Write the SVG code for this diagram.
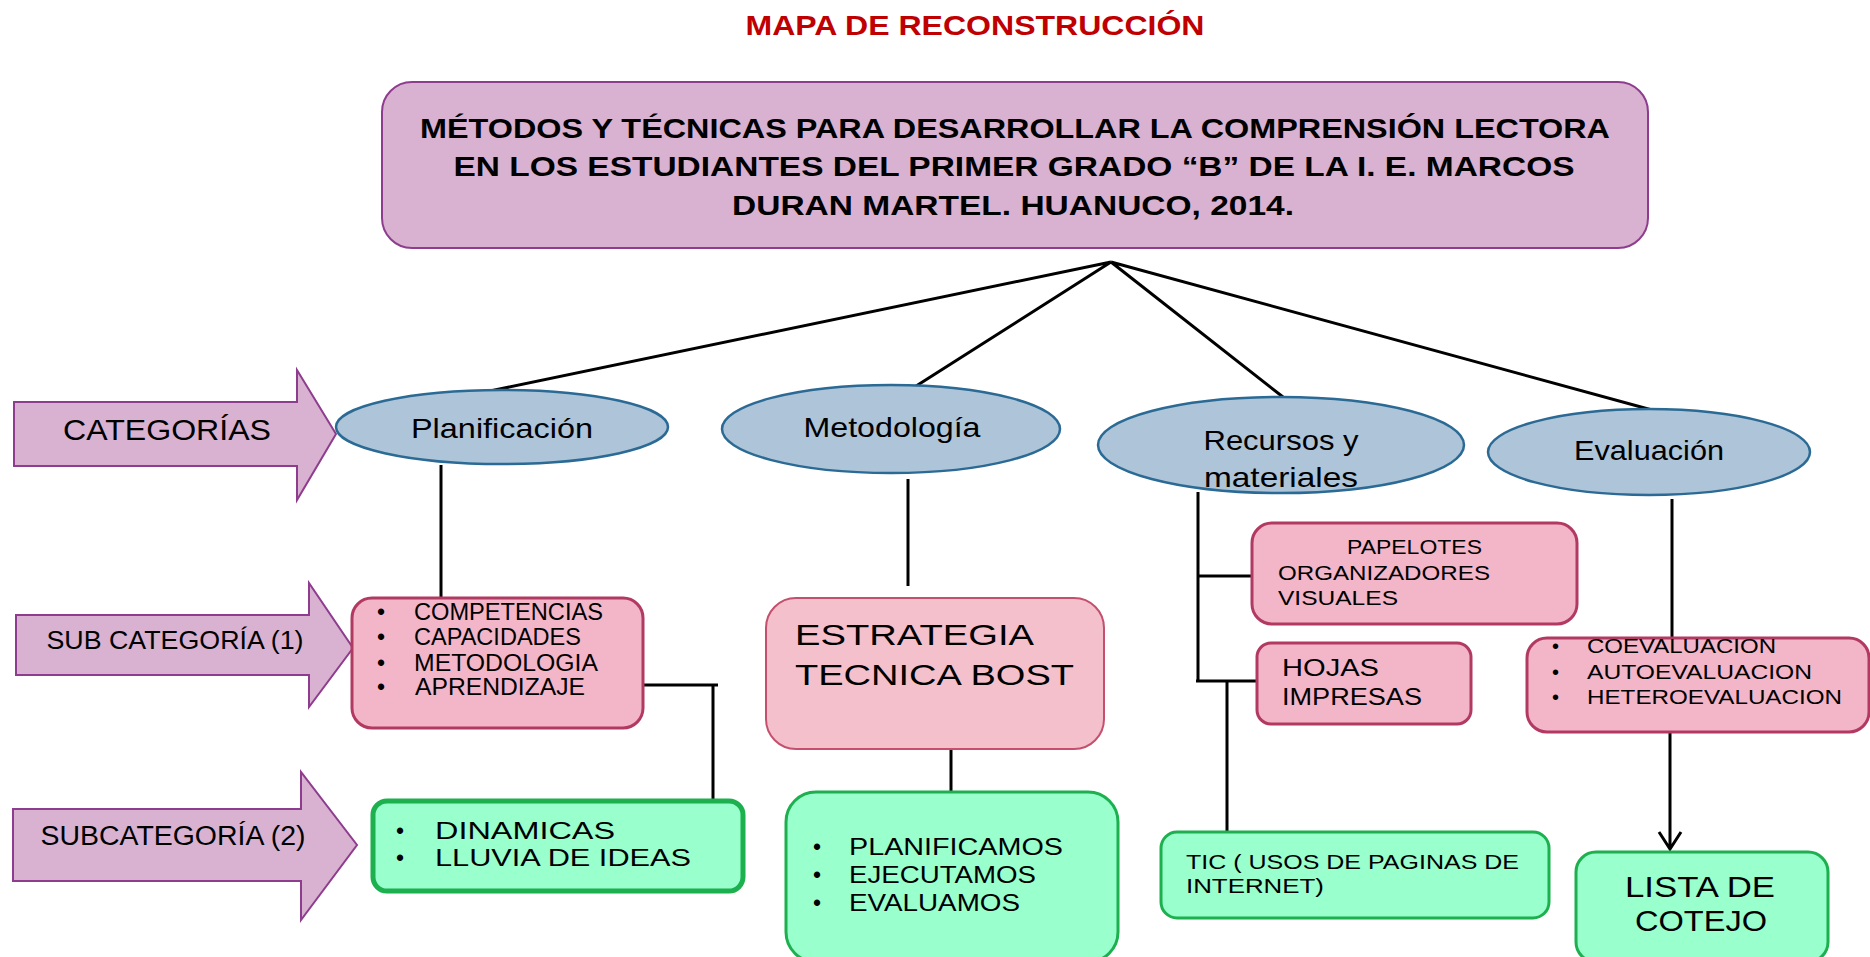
<svg xmlns="http://www.w3.org/2000/svg" width="1870" height="957" viewBox="0 0 1870 957">
<defs>
<style>
text{font-family:"Liberation Sans",Arial,sans-serif;fill:#000}
.ttl{font-size:28px;font-weight:bold;fill:#C00000}
.hd{font-size:27px;font-weight:bold}
.arw{fill:#D8B2D0;stroke:#8E3C8E;stroke-width:2}
.ell{fill:#AEC4D8;stroke:#2A6A94;stroke-width:2.5}
.pink{fill:#F3B5C8;stroke:#B23A62;stroke-width:3}
.pink2{fill:#F4C0CC;stroke:#C4506E;stroke-width:2}
.green{fill:#99FFCC;stroke:#1DB04E;stroke-width:3}
.con{stroke:#000;stroke-width:3;fill:none}
</style>
</defs>
<rect width="1870" height="957" fill="#fff"/>
<text class="ttl" x="975" y="35" text-anchor="middle" textLength="459" lengthAdjust="spacingAndGlyphs">MAPA DE RECONSTRUCCIÓN</text>

<g id="titulo">
<rect x="382" y="82" width="1266" height="166" rx="30" fill="#D8B2D0" stroke="#8E3C8E" stroke-width="2"/>
<text class="hd" x="1015" y="138" text-anchor="middle" textLength="1190" lengthAdjust="spacingAndGlyphs">MÉTODOS Y TÉCNICAS PARA DESARROLLAR LA COMPRENSIÓN LECTORA</text>
<text class="hd" x="1014" y="176" text-anchor="middle" textLength="1121" lengthAdjust="spacingAndGlyphs">EN LOS ESTUDIANTES DEL PRIMER GRADO “B” DE LA I. E. MARCOS</text>
<text class="hd" x="1013" y="215" text-anchor="middle" textLength="562" lengthAdjust="spacingAndGlyphs">DURAN MARTEL. HUANUCO, 2014.</text>
</g>

<g id="connectors">
<path class="con" d="M1111 262 L490 391 M1111 262 L913 388 M1111 262 L1283 397 M1111 262 L1652 410"/>
<path class="con" d="M441 465 V598"/>
<path class="con" d="M643 685 H718 M713 685 V800"/>
<path class="con" d="M908 479 V586"/>
<path class="con" d="M951 749 V791"/>
<path class="con" d="M1198 492 V681 M1198 576 H1252 M1196 681 H1257 M1227 681 V831"/>
<path class="con" d="M1672 499 V638"/>
<path class="con" d="M1670 732 V849 M1659 832 L1670 849 L1681 832"/>
</g>

<g id="arrow-categorias">
<path class="arw" d="M14 402 H297 V370 L336 434 L297 500 V466 H14 Z"/>
<text x="167" y="440" font-size="29" text-anchor="middle" textLength="208" lengthAdjust="spacingAndGlyphs">CATEGORÍAS</text>
</g>
<g id="arrow-sub1">
<path class="arw" d="M16 615 H309 V583 L353 648 L309 707 V675 H16 Z"/>
<text x="175" y="649" font-size="25" text-anchor="middle" textLength="257" lengthAdjust="spacingAndGlyphs">SUB CATEGORÍA (1)</text>
</g>
<g id="arrow-sub2">
<path class="arw" d="M13 809 H301 V772 L357 845 L301 920 V881 H13 Z"/>
<text x="173" y="845" font-size="27" text-anchor="middle" textLength="265" lengthAdjust="spacingAndGlyphs">SUBCATEGORÍA (2)</text>
</g>

<g id="planificacion">
<ellipse class="ell" cx="502" cy="427" rx="166" ry="37"/>
<text x="502" y="438" font-size="28" text-anchor="middle" textLength="182" lengthAdjust="spacingAndGlyphs">Planificación</text>
</g>
<g id="metodologia">
<ellipse class="ell" cx="891" cy="429" rx="169" ry="44"/>
<text x="892" y="437" font-size="28" text-anchor="middle" textLength="177" lengthAdjust="spacingAndGlyphs">Metodología</text>
</g>
<g id="recursos">
<ellipse class="ell" cx="1281" cy="445" rx="183" ry="48"/>
<text x="1281" y="450" font-size="28" text-anchor="middle" textLength="155" lengthAdjust="spacingAndGlyphs">Recursos y</text>
<text x="1281" y="487" font-size="28" text-anchor="middle" textLength="154" lengthAdjust="spacingAndGlyphs">materiales</text>
</g>
<g id="evaluacion">
<ellipse class="ell" cx="1649" cy="452" rx="161" ry="43"/>
<text x="1649" y="460" font-size="28" text-anchor="middle" textLength="150" lengthAdjust="spacingAndGlyphs">Evaluación</text>
</g>

<g id="sub-planificacion">
<rect class="pink" x="352" y="598" width="291" height="130" rx="20"/>
<g font-size="23">
<text x="377" y="620">•</text><text x="414" y="620" textLength="189" lengthAdjust="spacingAndGlyphs">COMPETENCIAS</text>
<text x="377" y="645">•</text><text x="414" y="645" textLength="167" lengthAdjust="spacingAndGlyphs">CAPACIDADES</text>
<text x="377" y="671">•</text><text x="414" y="671" textLength="184" lengthAdjust="spacingAndGlyphs">METODOLOGIA</text>
<text x="377" y="695">•</text><text x="415" y="695" textLength="170" lengthAdjust="spacingAndGlyphs">APRENDIZAJE</text>
</g>
</g>

<g id="sub-metodologia">
<rect class="pink2" x="766" y="598" width="338" height="151" rx="30"/>
<text x="795" y="645" font-size="30" textLength="239" lengthAdjust="spacingAndGlyphs">ESTRATEGIA</text>
<text x="795" y="685" font-size="30" textLength="279" lengthAdjust="spacingAndGlyphs">TECNICA BOST</text>
</g>

<g id="papelotes">
<rect class="pink" x="1252" y="523" width="325" height="101" rx="20"/>
<text x="1347" y="554" font-size="20" textLength="135" lengthAdjust="spacingAndGlyphs">PAPELOTES</text>
<text x="1278" y="580" font-size="20" textLength="212" lengthAdjust="spacingAndGlyphs">ORGANIZADORES</text>
<text x="1278" y="605" font-size="20" textLength="120" lengthAdjust="spacingAndGlyphs">VISUALES</text>
</g>

<g id="hojas">
<rect class="pink" x="1257" y="643" width="214" height="81" rx="14"/>
<text x="1282" y="676" font-size="24" textLength="97" lengthAdjust="spacingAndGlyphs">HOJAS</text>
<text x="1282" y="705" font-size="24" textLength="140" lengthAdjust="spacingAndGlyphs">IMPRESAS</text>
</g>

<g id="sub-evaluacion">
<rect class="pink" x="1527" y="638" width="342" height="94" rx="20"/>
<g font-size="20">
<text x="1552" y="653">•</text><text x="1587" y="653" textLength="189" lengthAdjust="spacingAndGlyphs">COEVALUACION</text>
<text x="1552" y="679">•</text><text x="1587" y="679" textLength="225" lengthAdjust="spacingAndGlyphs">AUTOEVALUACION</text>
<text x="1552" y="704">•</text><text x="1587" y="704" textLength="255" lengthAdjust="spacingAndGlyphs">HETEROEVALUACION</text>
</g>
</g>

<g id="dinamicas">
<rect x="373" y="801" width="370" height="90" rx="14" fill="#99FFCC" stroke="#1DB04E" stroke-width="5"/>
<g font-size="23">
<text x="396" y="839">•</text><text x="435" y="839" textLength="180" lengthAdjust="spacingAndGlyphs">DINAMICAS</text>
<text x="396" y="866">•</text><text x="435" y="866" textLength="256" lengthAdjust="spacingAndGlyphs">LLUVIA DE IDEAS</text>
</g>
</g>

<g id="planificamos">
<rect class="green" x="786" y="792" width="332" height="170" rx="30"/>
<g font-size="23">
<text x="813" y="855">•</text><text x="849" y="855" textLength="214" lengthAdjust="spacingAndGlyphs">PLANIFICAMOS</text>
<text x="813" y="883">•</text><text x="849" y="883" textLength="187" lengthAdjust="spacingAndGlyphs">EJECUTAMOS</text>
<text x="813" y="911">•</text><text x="849" y="911" textLength="171" lengthAdjust="spacingAndGlyphs">EVALUAMOS</text>
</g>
</g>

<g id="tic">
<rect class="green" x="1161" y="832" width="388" height="86" rx="16"/>
<text x="1186" y="869" font-size="20" textLength="333" lengthAdjust="spacingAndGlyphs">TIC ( USOS DE PAGINAS DE</text>
<text x="1186" y="893" font-size="20" textLength="138" lengthAdjust="spacingAndGlyphs">INTERNET)</text>
</g>

<g id="lista">
<rect class="green" x="1576" y="852" width="252" height="110" rx="20"/>
<text x="1700" y="897" font-size="29" text-anchor="middle" textLength="150" lengthAdjust="spacingAndGlyphs">LISTA DE</text>
<text x="1701" y="931" font-size="29" text-anchor="middle" textLength="132" lengthAdjust="spacingAndGlyphs">COTEJO</text>
</g>
</svg>
